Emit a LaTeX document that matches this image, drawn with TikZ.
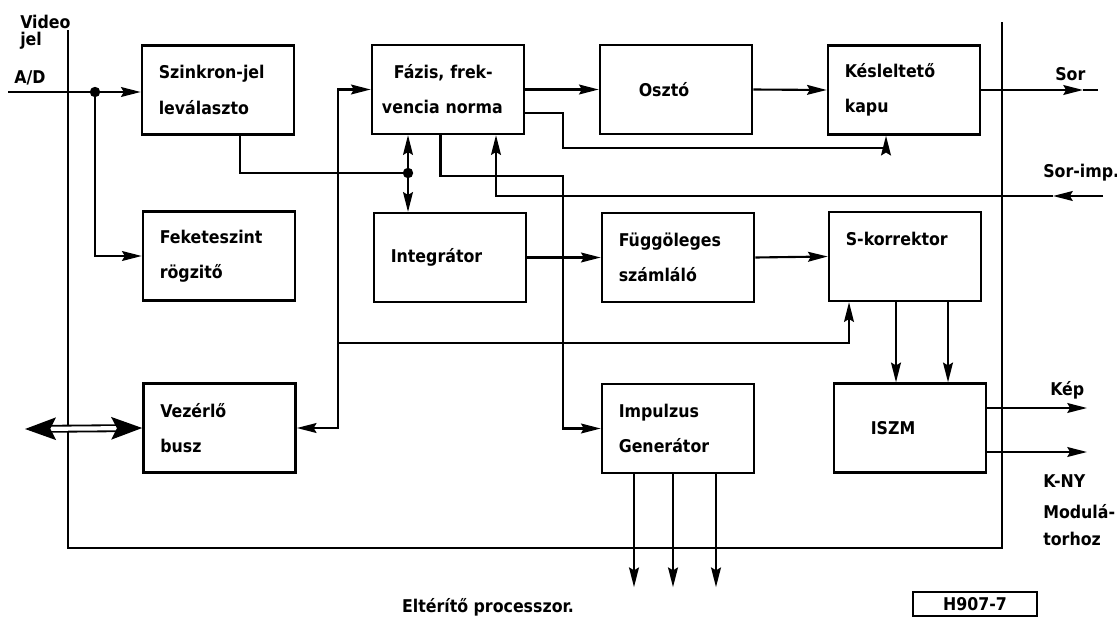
\documentclass[tikz,border=0pt]{standalone}
\usepackage{fontspec}
\setmainfont{DejaVu Sans Condensed}
\usetikzlibrary{arrows.meta, calc}
\newcommand{\boxfont}{\fontsize{12.5}{25}\selectfont\bfseries}

\begin{document}
\begin{tikzpicture}[
        x=0.025cm, y=-0.025cm,
        block/.style={draw, line width=1.8pt, minimum width=3.8cm, minimum height=2.22cm,
            text width=2.96cm, inner xsep=0.42cm, align=left, font=\boxfont},
        lbl/.style={inner sep=0pt, font=\boxfont},
        wire/.style={line width=1.5pt},
        arc/.style={wire, -{Stealth[length=14pt, width=7pt, inset=2pt]}},
        dot/.style={circle, fill, inner sep=0pt, minimum size=0.26cm},
        frame/.style={line width=1.4pt},
        bus/.style={draw, double, double distance=3pt, line width=1.3pt,
            {Stealth[length=22pt, width=16pt, inset=4pt]}-{Stealth[length=22pt, width=16pt, inset=4pt]}}
        ]
        \useasboundingbox (0,0) rectangle (1117,618);

        % blocks
        \node[block] (szink) at (218,90) {Szinkron-jel\\leválaszto};
        \node[block] (fekete) at (219,256) {Feketeszint\\rögzitő};
        \node[block, text width=3.3cm, inner xsep=0.25cm] (fazis) at (448,89.5) {\hspace*{0.3cm}Fázis, frek-\\vencia norma};
        \node[block] (oszto) at (676,89.5) {\hspace*{0.55cm}Osztó};
        \node[block] (kesl) at (904,90) {Késleltető\\kapu};
        \node[block] (integ) at (450,257.5) {Integrátor};
        \node[block] (fugg) at (678,257.5) {Függöleges\\számláló};
        \node[block] (skorr) at (905,256.5) {S-korrektor\\\mbox{}};
        \node[block] (vezer) at (219.5,428) {Vezérlő\\busz};
        \node[block] (impulz) at (678,428.5) {Impulzus\\Generátor};
        \node[block] (iszm) at (910,428) {\hspace*{0.5cm}ISZM};

        % frame
        \draw[frame] (68,30) -- (68,548) -- (1002,548) -- (1002,22);

        % video input
        \coordinate (ad) at (8,92);
        \node[dot] (j1) at (95,92) {};
        \draw[arc] (ad) -- (szink.west |- ad);
        \draw[arc] (j1) |- (fekete.west);

        % sync separator to phase and integrator
        \node[dot] (j2) at (408,173) {};
        \draw[wire] ($(szink.south)+(22,0)$) |- (j2);
        \draw[arc] (j2) -- (fazis.south -| j2);
        \draw[arc] (j2) -- (integ.north -| j2);

        % control line
        \coordinate (b1) at (338,343);
        \draw[arc] (b1) |- (fazis.west);
        \draw[arc] (b1) |- (vezer.east);
        \draw[arc] (b1) -| ($(skorr.south)+(-56,0)$);

        % horizontal chain
        \draw[arc] (fazis.east) -- (oszto.west);
        \draw[arc] (oszto.east) -- (kesl.west);
        \coordinate (sortip) at (1083,90);
        \coordinate (sor) at (1098,90);
        \draw[arc] (kesl.east) -- (sortip);
        \draw[wire] (sortip) -- (sor);

        \coordinate (k1) at (563,148);
        \draw[arc] ($(fazis.east)+(0,23.5)$) -| (k1) -| ($(kesl.south)+(-18,0)$);
        \coordinate (k2) at (563,176);
        \draw[arc] ($(fazis.south)+(-7.5,0)$) |- (k2) |- (impulz.west);

        % Sor-imp. input
        \coordinate (sorimp) at (1103,196);
        \coordinate (sorimptip) at (1053,196);
        \draw[arc] (sorimp) -- (sorimptip);
        \draw[arc] (sorimptip) -| ($(fazis.south)+(48,0)$);

        % vertical chain
        \draw[arc] (integ.east) -- (fugg.west);
        \draw[arc] (fugg.east) -- (skorr.west);
        \foreach \dx in {-9,43}
            \draw[arc] ($(skorr.south)+(\dx,0)$) -- ($(iszm.north)+(\dx-5,0)$);

        \coordinate (kep) at (1087,408);
        \coordinate (kny) at (1087,452);
        \draw[arc] (iszm.east |- kep) -- (kep);
        \draw[arc] (iszm.east |- kny) -- (kny);

        \foreach \dx in {-44,-5,38}
            \draw[arc] ($(impulz.south)+(\dx,0)$) -- ++(0,113);

        % bus
        \coordinate (busend) at (25,429);
        \draw[bus] (busend) -- (vezer.west);

        % labels
        \node[lbl, anchor=base west] (video) at (20,28) {Video};
        \node[lbl, anchor=base west] (jel) at (20,45) {jel};
        \node[lbl, anchor=base west] (adlbl) at (14,83) {A/D};
        \node[lbl, anchor=base west] (sorlbl) at (1055,80) {Sor};
        \node[lbl, anchor=base west] (sorimplbl) at (1043,177) {Sor-imp.};
        \node[lbl, anchor=base west] (keplbl) at (1050,395) {Kép};
        \node[lbl, anchor=base west] (knylbl) at (1043,487) {K-NY};
        \node[lbl, anchor=base west] (modlbl) at (1043,518) {Modulá-};
        \node[lbl, anchor=base west] (torlbl) at (1043,545) {torhoz};
        \node[lbl, anchor=base] (eltlbl) at (488,612) {Eltérítő processzor.};
        \node[draw, line width=1.4pt, anchor=north west, minimum width=3.1cm,
            minimum height=0.6cm, inner ysep=1pt, font=\boxfont] (stamp) at (912,591) {H907-7};
\end{tikzpicture}
\end{document}
